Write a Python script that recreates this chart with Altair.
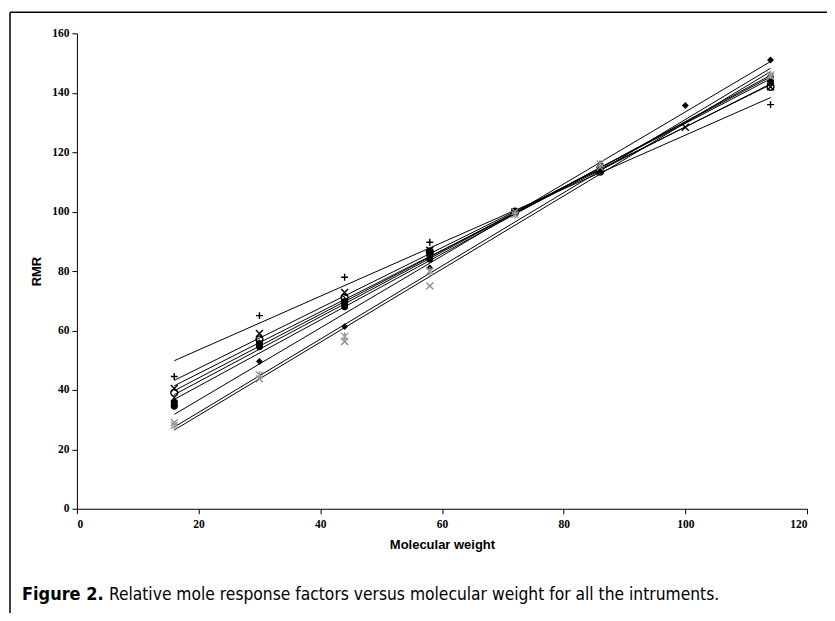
import altair as alt
import pandas as pd

# Molecular weights (methane ... octane)
X = [16, 30, 44, 58, 72, 86, 100, 114]

SERIES = ["Instrument 1", "Instrument 2", "Instrument 3", "Instrument 4", "Instrument 5",
          "Instrument 6", "Instrument 7", "Instrument 8", "Instrument 9"]

S1 = [35.0, 49.6, 61.3, 81.0, 99.5, 116.0, 135.7, 151.0]
S2 = [35.5, 55.5, 69.5, 86.0, 100.0, 114.0, None, 144.5]
S3 = [37.0, 56.0, 70.5, 86.5, 100.0, 114.5, None, 143.5]
S4 = [40.5, 59.0, 72.8, 87.0, 100.0, 114.0, 128.4, 142.0]
S5 = [44.5, 65.0, 77.9, 89.7, 100.0, 114.0, None, 136.0]
S6 = [39.0, 57.0, 71.0, 86.5, 100.0, 113.5, None, 142.0]
S7 = [29.0, 43.7, 56.3, 75.0, 100.0, 115.0, None, 145.5]
S8 = [28.0, 45.0, 58.0, 80.0, 99.0, 116.0, None, 146.0]
S9 = [34.5, 54.5, 68.0, 84.0, 99.5, 115.0, None, 145.0]
VALUES = [S1, S2, S3, S4, S5, S6, S7, S8, S9]

X_PATH = "M-1,-1L1,1M-1,1L1,-1"
PLUS_PATH = "M-1,0L1,0M0,-1L0,1"
STAR_PATH = "M-1,-1L1,1M-1,1L1,-1M0,-1.2L0,1.2"
SHAPES = ["diamond", "square", "triangle-up", X_PATH, PLUS_PATH,
          "circle", X_PATH, STAR_PATH, "circle"]
FILLED = [True, True, True, False, False, False, False, False, True]
COLORS = ["#000000", "#000000", "#000000", "#000000", "#000000",
          "#000000", "#8a8a8a", "#9a9a9a", "#000000"]

rows = []
for name, vals, filled in zip(SERIES, VALUES, FILLED):
    for x, y in zip(X, vals):
        if y is not None:
            rows.append({"series": name, "x": x, "y": y, "filled": filled})
df = pd.DataFrame(rows)

W, H = 731, 476

xenc = alt.X("x:Q", title="Molecular weight",
             scale=alt.Scale(domain=[0, 120], nice=False),
             axis=alt.Axis(values=[0, 20, 40, 60, 80, 100, 120], labelPadding=5, titlePadding=8))
yenc = alt.Y("y:Q", title="RMR",
             scale=alt.Scale(domain=[0, 160], nice=False),
             axis=alt.Axis(values=[0, 20, 40, 60, 80, 100, 120, 140, 160], titlePadding=8))

shape_scale = alt.Scale(domain=SERIES, range=SHAPES)

lines = alt.Chart(df).transform_regression(
    "x", "y", groupby=["series"]
).mark_line(color="black", strokeWidth=1).encode(
    x=xenc, y=yenc, detail="series:N"
)

pts_filled = alt.Chart(df).transform_filter("datum.filled").mark_point(
    filled=True, size=48, color="black", opacity=1
).encode(
    x=xenc, y=yenc,
    shape=alt.Shape("series:N", scale=shape_scale, legend=None)
)

pts_open = alt.Chart(df).transform_filter("!datum.filled").mark_point(
    filled=False, size=48, strokeWidth=1.4, opacity=1
).encode(
    x=xenc, y=yenc,
    shape=alt.Shape("series:N", scale=shape_scale, legend=None),
    color=alt.Color("series:N", scale=alt.Scale(domain=SERIES, range=COLORS), legend=None)
)

one = pd.DataFrame({"t": [""]})
frame_left = alt.Chart(one).mark_rule(color="black", strokeWidth=1.5).encode(
    x=alt.value(-67), y=alt.value(-21), y2=alt.value(700))
frame_top = alt.Chart(one).mark_rule(color="black", strokeWidth=1.5).encode(
    x=alt.value(-67), x2=alt.value(900), y=alt.value(-21))

CAP_FONT = "Liberation Sans Narrow, DejaVu Sans Condensed, sans-serif"
cap_bold = alt.Chart(pd.DataFrame({"t": ["Figure 2."]})).mark_text(
    align="left", baseline="alphabetic", font=CAP_FONT, fontSize=18,
    fontWeight="bold", color="black"
).encode(text="t:N", x=alt.value(-55), y=alt.value(567))
cap_reg = alt.Chart(pd.DataFrame({"t": ["Relative mole response factors versus molecular weight for all the intruments."]})).mark_text(
    align="left", baseline="alphabetic", font=CAP_FONT, fontSize=17.3,
    fontWeight="normal", color="black"
).encode(text="t:N", x=alt.value(32), y=alt.value(567))

chart = alt.layer(lines, pts_filled, pts_open, frame_left, frame_top, cap_bold, cap_reg).properties(
    width=W, height=H,
    padding={"left": 69, "top": 25, "right": 20, "bottom": 104},
    autosize="none",
).configure_view(stroke=None).configure_axis(
    grid=False, domainColor="black", tickColor="black", tickSize=5,
    labelFont="Liberation Serif", labelFontWeight="bold", labelFontSize=11.5,
    labelColor="black", labelPadding=3,
    titleFont="Liberation Sans", titleFontWeight="bold", titleFontSize=13,
    titleColor="black"
)

chart.save("out.html", embed_options={"renderer": "svg", "actions": False})
